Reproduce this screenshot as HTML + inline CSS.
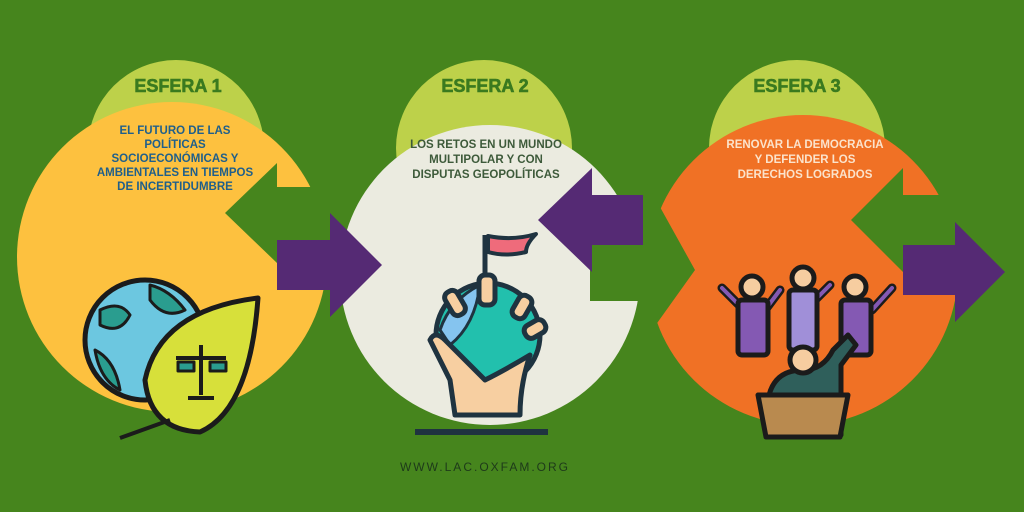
<!DOCTYPE html>
<html><head><meta charset="utf-8"><style>
html,body{margin:0;padding:0;background:#46851d}
svg{display:block}
</style></head><body>
<svg width="1024" height="512" viewBox="0 0 1024 512" xmlns="http://www.w3.org/2000/svg" font-family="Liberation Sans, sans-serif">
<rect width="1024" height="512" fill="#46851d"/>
<!-- caps -->
<circle cx="176" cy="148" r="88" fill="#bdd14a"/>
<circle cx="484" cy="148" r="88" fill="#bdd14a"/>
<circle cx="797" cy="148" r="88" fill="#bdd14a"/>
<!-- main circles -->
<circle cx="172" cy="257" r="155" fill="#fdc13f"/>
<circle cx="490" cy="275" r="150" fill="#ebebe0"/>
<circle cx="803" cy="270" r="155" fill="#f07125"/>
<!-- green notches -->
<polygon points="277,163 225,213 277,263 330,263 330,187 277,187" fill="#46851d"/>
<rect x="590" y="245" width="60" height="56" fill="#46851d"/>
<polygon points="645,180 695,270 645,340" fill="#46851d"/>
<polygon points="903,168 851,220 903,272 960,272 960,195 903,195" fill="#46851d"/>
<!-- purple arrows -->
<polygon points="277,240 330,240 330,213 382,265 330,317 330,290 277,290" fill="#552a74"/>
<polygon points="643,195 592,195 592,168 538,220 592,272 592,245 643,245" fill="#552a74"/>
<polygon points="903,245 955,245 955,222 1005,272 955,322 955,295 903,295" fill="#552a74"/>
<!-- titles -->
<g font-weight="bold" font-size="18" fill="#3a7a1f" text-anchor="middle" stroke="#3a7a1f" stroke-width="0.6">
<text x="178" y="92">ESFERA 1</text>
<text x="485" y="92">ESFERA 2</text>
<text x="797" y="92">ESFERA 3</text>
</g>
<g font-weight="bold" font-size="11.5" text-anchor="middle">
<text fill="#1f5f8b" x="175" y="134">EL FUTURO DE LAS</text>
<text fill="#1f5f8b" x="175" y="148">POLÍTICAS</text>
<text fill="#1f5f8b" x="175" y="162">SOCIOECONÓMICAS Y</text>
<text fill="#1f5f8b" x="175" y="176">AMBIENTALES EN TIEMPOS</text>
<text fill="#1f5f8b" x="175" y="190">DE INCERTIDUMBRE</text>
<text fill="#3d5a3a" x="486" y="148">LOS RETOS EN UN MUNDO</text>
<text fill="#3d5a3a" x="486" y="163">MULTIPOLAR Y CON</text>
<text fill="#3d5a3a" x="486" y="178">DISPUTAS GEOPOLÍTICAS</text>
<text fill="#fbe3cc" x="805" y="148">RENOVAR LA DEMOCRACIA</text>
<text fill="#fbe3cc" x="805" y="163">Y DEFENDER LOS</text>
<text fill="#fbe3cc" x="805" y="178">DERECHOS LOGRADOS</text>
</g>
<text x="485" y="471" text-anchor="middle" font-size="12" letter-spacing="2" fill="#1e3a1a">WWW.LAC.OXFAM.ORG</text>
<!-- icon 1: globe + leaf -->
<g stroke="#1b1b1b" stroke-width="5" stroke-linejoin="round">
<circle cx="145" cy="340" r="60" fill="#6cc7e0"/>
<path d="M100,310 q20,-10 30,5 q-10,20 -30,10z M150,285 q20,5 35,25 q-20,10 -35,-10z M95,350 q20,10 25,40 q-20,-10 -25,-40z" fill="#2a9d8f" stroke-width="3"/>
<path d="M258,298 Q160,310 145,380 Q150,430 200,432 Q250,410 258,298z" fill="#d7e03a"/>
<path d="M170,420 L120,438" fill="none" stroke-width="4"/>
<path d="M176,358 h50 M201,345 v50 M188,398 h26" fill="none" stroke-width="4"/>
<rect x="178" y="362" width="16" height="9" fill="#2a9d8f" stroke-width="3"/>
<rect x="210" y="362" width="16" height="9" fill="#2a9d8f" stroke-width="3"/>
</g>
<!-- icon 2: hand + globe -->
<g stroke="#1f3340" stroke-width="5" stroke-linejoin="round">
<path d="M485,275 V235" fill="none"/>
<path d="M488,236 q25,5 48,-2 q-10,10 -10,18 q-20,5 -38,0z" fill="#ef6b7b" stroke-width="4"/>
<circle cx="488" cy="335" r="52" fill="#22c0ad"/>
<path d="M440,330 q10,-30 40,-45 q-5,40 -30,60z" fill="#85c4ef" stroke-width="3"/>
<path d="M450,380 q-10,-20 -20,-40 q5,-10 15,0 q20,20 40,40 q20,-10 45,-25 q-10,30 -10,60 h-65z" fill="#f7cfa1"/>
<rect x="479" y="275" width="16" height="30" rx="6" fill="#f7cfa1"/>
<rect x="448" y="290" width="14" height="26" rx="6" fill="#f7cfa1" transform="rotate(-30 455 303)"/>
<rect x="515" y="295" width="14" height="24" rx="6" fill="#f7cfa1" transform="rotate(30 522 307)"/>
<rect x="528" y="318" width="14" height="22" rx="6" fill="#f7cfa1" transform="rotate(60 535 329)"/>
<path d="M415,432 H548" stroke-width="6"/>
</g>
<!-- icon 3: people -->
<g stroke="#1b1b1b" stroke-width="5" stroke-linejoin="round" stroke-linecap="round">
<path d="M722,288 l20,20 M780,290 l-15,20 M830,285 l-20,20 M862,292 l-18,18 M892,288 l-20,22" fill="none" stroke-width="9"/>
<path d="M722,288 l20,20 M780,290 l-15,20 M830,285 l-20,20 M862,292 l-18,18 M892,288 l-20,22" fill="none" stroke="#8459b3" stroke-width="4"/>
<circle cx="752" cy="287" r="11" fill="#f6cda0"/>
<rect x="738" y="300" width="30" height="55" rx="4" fill="#8459b3"/>
<circle cx="803" cy="278" r="11" fill="#f6cda0"/>
<rect x="789" y="290" width="28" height="60" rx="4" fill="#a08fd8"/>
<circle cx="855" cy="287" r="11" fill="#f6cda0"/>
<rect x="841" y="300" width="30" height="55" rx="4" fill="#8459b3"/>
<path d="M768,400 q5,-30 35,-30 q20,0 30,-20 l15,-15 l8,10 l-15,20 v70 h-72z" fill="#2f5f5b"/>
<circle cx="803" cy="360" r="13" fill="#f6cda0"/>
<path d="M758,395 h90 l-8,42 h-74z" fill="#b98a4f"/>
</g>
</svg>
</body></html>
